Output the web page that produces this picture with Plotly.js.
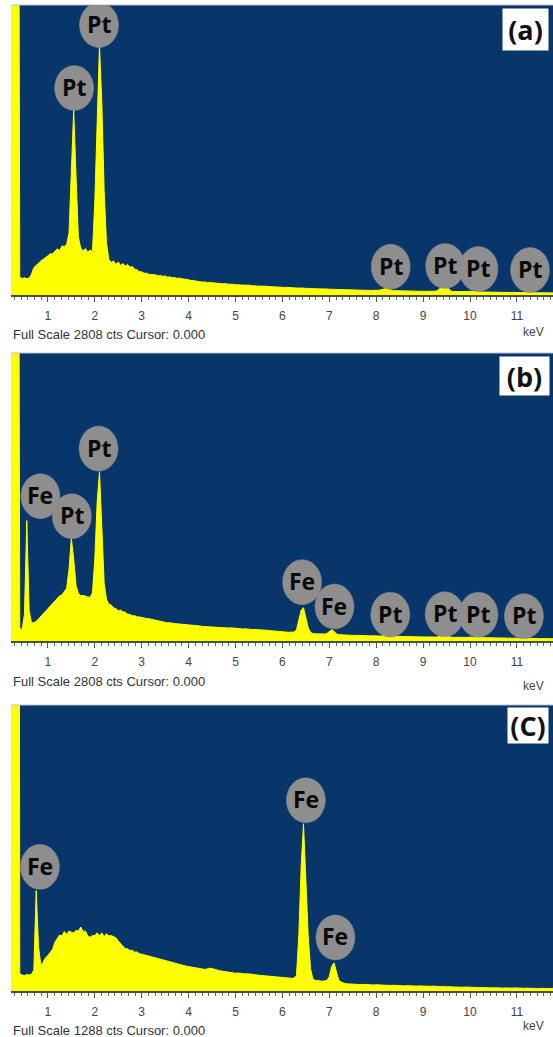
<!DOCTYPE html>
<html><head><meta charset="utf-8">
<script src="https://cdn.plot.ly/plotly-3.0.1.min.js"></script>
<style>html,body{margin:0;padding:0;background:#fff;}#chart{width:553px;height:1037px;}</style>
</head><body><div id="chart"></div>
<script>
// ---- DATA ----
const energyStart = 0.2;   // keV of first channel
const energyStep = 0.05;   // keV per channel
const fullScaleA = 2808, fullScaleB = 2808, fullScaleC = 1288;
const tickValues = [1,2,3,4,5,6,7,8,9,10,11];
const tickLabels = ['1','2','3','4','5','6','7','8','9','10','11'];

const countsA = [
 9999,9999,9999,9999,170,160,168,158,165,200,265,290,305,330,345,360,
 380,400,398,425,445,430,475,470,490,600,1200,1790,1150,560,455,425,450,415,435,420,
 900,1700,2420,1850,1000,500,345,315,330,295,320,285,305,280,295,270,275,250,245,225,
 225,210,212,200,198,190,195,185,190,180,185,172,176,168,170,160,165,158,156,148,
 148,140,142,135,130,128,125,127,120,122,118,115,117,112,110,112,108,105,107,104,
 100,102,98,96,97,93,95,90,92,88,86,88,84,85,82,80,82,78,77,76,
 75,73,74,70,72,69,68,70,66,67,64,65,62,63,60,61,58,60,57,58,
 56,55,56,54,53,54,52,51,52,50,49,50,48,47,48,46,47,45,44,45,
 44,46,50,56,62,55,47,43,42,41,42,40,39,40,38,39,37,38,37,36,
 36,35,36,35,34,36,42,60,85,95,80,55,38,33,32,31,32,30,31,33,
 36,33,30,29,30,28,29,28,27,28,27,26,27,26,25,26,25,24,25,24,
 24,23,24,23,23,22,24,22,22,21,22,21,21,20,21,20,20];

const countsB = [
 9999,9999,9999,9999,125,110,260,1174,300,175,180,190,215,240,262,285,
 310,335,355,390,405,440,450,480,515,700,1000,800,540,465,440,445,435,430,425,470,
 800,1350,1650,1150,560,405,360,350,325,315,295,300,285,280,262,260,245,248,235,235,
 228,225,220,218,212,205,200,196,190,186,180,176,178,172,170,168,166,168,162,160,
 158,154,152,150,148,146,142,144,140,138,136,135,133,134,130,131,128,127,128,125,
 122,123,120,118,119,115,116,112,113,110,108,109,106,105,103,100,98,96,94,92,
 90,88,86,85,84,88,110,200,300,325,240,130,85,72,70,68,67,66,68,74,
 90,110,95,70,62,60,59,58,57,56,55,54,55,53,52,53,51,50,51,49,
 48,49,48,50,52,49,47,46,47,45,44,45,43,44,42,43,41,42,40,41,
 40,39,40,38,39,38,40,46,55,58,50,42,37,36,35,36,34,35,34,35,
 38,35,33,34,32,33,32,31,32,30,31,30,29,30,29,28,29,28,27,28,
 27,26,28,26,25,26,25,24,25,24,23,24,23,22,23,22,22];

const countsC = [
 9999,9999,9999,9999,78,72,70,74,72,76,95,452,200,115,130,150,
 160,175,188,220,238,252,248,268,255,270,265,262,272,270,288,268,270,248,242,250,
 250,262,248,262,245,258,248,250,245,240,225,212,198,190,190,182,184,175,176,168,
 166,163,160,158,156,152,150,146,144,140,136,134,130,128,125,122,118,115,113,112,
 110,108,106,103,100,99,98,97,100,103,101,97,95,92,90,88,86,84,83,81,
 80,81,79,78,77,78,76,75,74,72,71,70,69,68,67,66,64,63,62,60,
 59,58,60,58,57,58,70,250,560,753,520,250,100,55,48,46,45,44,46,48,
 65,110,127,90,50,40,35,33,32,31,30,31,30,29,30,29,28,29,28,27,
 28,27,28,26,27,26,25,26,25,24,25,24,23,24,23,22,23,22,23,22,
 22,21,22,21,22,20,21,20,21,20,19,20,19,18,19,18,17,18,17,18,
 17,16,17,16,15,16,15,16,15,14,15,14,15,14,13,14,13,14,13,14,
 13,14,13,12,13,12,13,12,12,11,12,11,12,11,11,12,11];

// element labels: name, energy (keV), counts of label centre
const labelsA = ['Pt','Pt','Pt','Pt','Pt','Pt'];
const labelKeVA = [1.56, 2.09, 8.31, 9.47, 10.18, 11.28];
const labelCtsA = [2004, 2614, 274, 281, 252, 242];
const labelsB = ['Fe','Pt','Pt','Fe','Fe','Pt','Pt','Pt','Pt'];
const labelKeVB = [0.84, 1.51, 2.08, 6.42, 7.11, 8.30, 9.46, 10.18, 11.15];
const labelCtsB = [1412, 1216, 1876, 574, 336, 257, 261, 257, 242];
const labelsC = ['Fe','Fe','Fe'];
const labelKeVC = [0.83, 6.50, 7.13];
const labelCtsC = [559, 859, 241];

const panelTags = ['(a)','(b)','(C)'];
const footerTexts = ['Full Scale 2808 cts Cursor: 0.000','Full Scale 2808 cts Cursor: 0.000','Full Scale 1288 cts Cursor: 0.000'];
const unitLabel = 'keV';

// ---- LAYOUT ----
const W = 553, H = 1037;
const px = x => x / W;
const py = y => 1 - y / H;
const xRange = [0.2132, 11.7697];
const plotLeft = 11;
const BLUE = '#08366a', YELLOW = '#ffff00';

const panels = [
  {ax:'', counts:countsA, fs:fullScaleA, top:5, bottom:295, names:labelsA, kev:labelKeVA, cts:labelCtsA,
   tag:{cx:525.5, cy:29.5, w:45, h:41}, foot:334, unit:332},
  {ax:'2', counts:countsB, fs:fullScaleB, top:353, bottom:641, names:labelsB, kev:labelKeVB, cts:labelCtsB,
   tag:{cx:524.5, cy:376, w:49, h:38}, foot:681, unit:686},
  {ax:'3', counts:countsC, fs:fullScaleC, top:705, bottom:991, names:labelsC, kev:labelKeVC, cts:labelCtsC,
   tag:{cx:528, cy:725.5, w:40, h:35}, foot:1030, unit:1026}
];

const traces = [];
const layout = {
  width: W, height: H, autosize: false,
  margin: {l:0, r:0, t:0, b:0, pad:0},
  paper_bgcolor: '#ffffff', plot_bgcolor: BLUE,
  showlegend: false,
  shapes: [], annotations: [],
  font: {family: 'Liberation Sans, Arial, sans-serif'}
};

panels.forEach((p, i) => {
  const xa = 'x' + p.ax, ya = 'y' + p.ax;
  traces.push({
    type: 'scatter', mode: 'lines', x0: energyStart, dx: energyStep, y: p.counts,
    xaxis: xa, yaxis: ya, fill: 'tozeroy', fillcolor: YELLOW,
    line: {color: YELLOW, width: 1}, hoverinfo: 'skip'
  });
  layout['xaxis' + p.ax] = {
    domain: [px(plotLeft), 1], range: xRange, anchor: ya,
    showgrid: false, zeroline: false, showline: true, linecolor: '#4a5040', linewidth: 1.5,
    ticks: 'outside', ticklen: 5, tickwidth: 1, tickcolor: '#555',
    tickvals: tickValues, ticktext: tickLabels, ticklabelstandoff: 4,
    tickfont: {size: 12, color: '#444', family: 'Liberation Sans, Arial, sans-serif'},
    minor: {ticks: 'outside', dtick: 1/7, tick0: 0, ticklen: 3, tickcolor: '#666', tickwidth: 1, showgrid: false},
    fixedrange: true
  };
  layout['yaxis' + p.ax] = {
    domain: [py(p.bottom), py(p.top)], range: [0, p.fs], anchor: xa,
    showgrid: false, zeroline: false, showline: false, showticklabels: false, ticks: '',
    fixedrange: true
  };
  // top frame line
  layout.shapes.push({type:'line', xref: xa + ' domain', yref: ya + ' domain', x0:0, x1:1, y0:1, y1:1,
    line:{color:'#b8c0cc', width:1}});
  // element label ellipses + text
  p.names.forEach((n, k) => {
    layout.shapes.push({type:'circle', xref: xa, yref: ya, xsizemode:'pixel', ysizemode:'pixel',
      xanchor: p.kev[k], yanchor: p.cts[k], x0:-19.5, x1:19.5, y0:-22.5, y1:22.5,
      fillcolor:'#8e8e8e', line:{color:'#8a8a8a', width:0.5}, layer:'above'});
    layout.annotations.push({xref: xa, yref: ya, x: p.kev[k], y: p.cts[k], text: '<b>' + n + '</b>',
      showarrow:false, xanchor:'center', yanchor:'middle', yshift: 1,
      font:{family:'Open Sans, Noto Sans, sans-serif', size:23, color:'#0a0a0a'}});
  });
  // panel tag box
  layout.annotations.push({xref:'paper', yref:'paper', x: px(p.tag.cx), y: py(p.tag.cy),
    xanchor:'center', yanchor:'middle', text:'<b>' + panelTags[i] + '</b>', showarrow:false,
    bgcolor:'#ffffff', width:p.tag.w, height:p.tag.h, borderpad:0,
    font:{family:'Open Sans, Noto Sans, sans-serif', size:27, color:'#111'}});
  // footer text
  layout.annotations.push({xref:'paper', yref:'paper', x: px(11), y: py(p.foot),
    xanchor:'left', yanchor:'middle', text: footerTexts[i], showarrow:false,
    font:{family:'Liberation Sans, Arial, sans-serif', size:13, color:'#333'}});
  // unit label
  layout.annotations.push({xref:'paper', yref:'paper', x: px(533), y: py(p.unit),
    xanchor:'center', yanchor:'middle', text: unitLabel, showarrow:false,
    font:{family:'Liberation Sans, Arial, sans-serif', size:12, color:'#444'}});
});

Plotly.newPlot('chart', traces, layout, {displayModeBar:false, staticPlot:true});
</script>
</body></html>
